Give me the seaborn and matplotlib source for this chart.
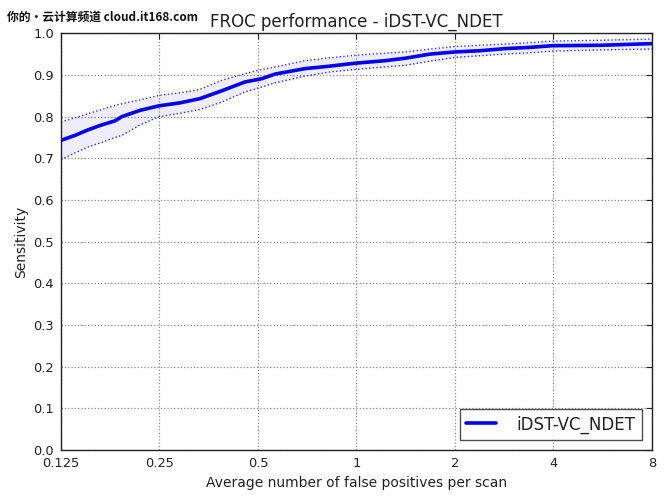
import matplotlib
matplotlib.use("Agg")
import matplotlib.pyplot as plt
import matplotlib.ticker as mticker
import seaborn as sns
import pandas as pd

# ---- data ----
fps = [0.125, 0.138, 0.151, 0.165, 0.183, 0.192, 0.218, 0.25, 0.289, 0.332, 0.388,
       0.456, 0.514, 0.564, 0.696, 0.83, 0.99, 1.22, 1.41, 1.68, 2.0, 2.39, 2.84,
       3.39, 3.96, 5.55, 8.0]
sens_mean = [0.743, 0.755, 0.768, 0.779, 0.790, 0.800, 0.815, 0.826, 0.833, 0.843, 0.862,
             0.883, 0.891, 0.902, 0.915, 0.921, 0.928, 0.934, 0.940, 0.950, 0.955, 0.958,
             0.963, 0.966, 0.970, 0.971, 0.975]
sens_upper = [0.787, 0.797, 0.807, 0.816, 0.827, 0.831, 0.840, 0.851, 0.857, 0.865, 0.887,
              0.903, 0.913, 0.919, 0.934, 0.941, 0.947, 0.952, 0.955, 0.962, 0.968, 0.971,
              0.974, 0.977, 0.981, 0.983, 0.986]
sens_lower = [0.697, 0.713, 0.727, 0.737, 0.750, 0.755, 0.780, 0.800, 0.808, 0.817, 0.835,
              0.859, 0.871, 0.881, 0.897, 0.907, 0.913, 0.919, 0.923, 0.933, 0.942, 0.946,
              0.950, 0.953, 0.957, 0.960, 0.962]
series_name = "iDST-VC_NDET"
x_ticks = [0.125, 0.25, 0.5, 1, 2, 4, 8]
x_tick_labels = ["0.125", "0.25", "0.5", "1", "2", "4", "8"]
y_ticks = [0.0, 0.1, 0.2, 0.3, 0.4, 0.5, 0.6, 0.7, 0.8, 0.9, 1.0]

df = pd.DataFrame({"fps": fps, "mean": sens_mean, "upper": sens_upper,
                   "lower": sens_lower, "name": series_name})

sns.set_style("white")
plt.rcParams["font.family"] = ["DejaVu Sans"]

fig = plt.figure(figsize=(6.7, 5.03), dpi=100)
ax = fig.add_axes([0.091, 0.105, 0.882, 0.829])

ax.fill_between(df["fps"], df["lower"], df["upper"], color="#0000ff", alpha=0.07, lw=0)
sns.lineplot(data=df, x="fps", y="upper", ax=ax, color="#3333dd", lw=1.0,
             linestyle=":", legend=False)
sns.lineplot(data=df, x="fps", y="lower", ax=ax, color="#3333dd", lw=1.0,
             linestyle=":", legend=False)
sns.lineplot(data=df, x="fps", y="mean", ax=ax, color="#0000ee", lw=2.6,
             label=series_name)

ax.set_xscale("log", base=2)
ax.set_xlim(0.125, 8)
ax.set_ylim(0, 1)
ax.xaxis.set_major_locator(mticker.FixedLocator(x_ticks))
ax.xaxis.set_minor_locator(mticker.NullLocator())
ax.set_xticks(x_ticks)
ax.set_xticklabels(x_tick_labels)
ax.set_yticks(y_ticks)
ax.set_yticklabels([f"{v:.1f}" for v in y_ticks])

ax.grid(True, which="major", color="#888888", linestyle=":", linewidth=0.9)
for s in ax.spines.values():
    s.set_color("#222222")
    s.set_linewidth(1.0)
ax.tick_params(axis="both", which="major", direction="in", length=4, width=0.8,
               top=True, right=True, labelsize=9.4, colors="#222222", pad=5)

ax.set_title("FROC performance - iDST-VC_NDET", fontsize=12, color="#222222", pad=4.5)
ax.set_xlabel("Average number of false positives per scan", fontsize=10, color="#222222",
              labelpad=4)
ax.set_ylabel("Sensitivity", fontsize=10, color="#222222", labelpad=4)

leg = ax.legend(loc="lower right", fontsize=12, frameon=True, fancybox=False,
                borderaxespad=0.6, handlelength=1.8, handletextpad=1.2,
                borderpad=0.4)
leg.get_frame().set_edgecolor("#222222")
leg.get_frame().set_linewidth(1.0)
for t in leg.get_texts():
    t.set_color("#222222")

fig.text(0.01, 0.965, "你的•云计算频道 cloud.it168.com", fontsize=8.5, fontweight="bold",
         family=["Noto Sans CJK SC", "DejaVu Sans"], color="#111111", va="center")

fig.savefig("out.png", dpi=100)
